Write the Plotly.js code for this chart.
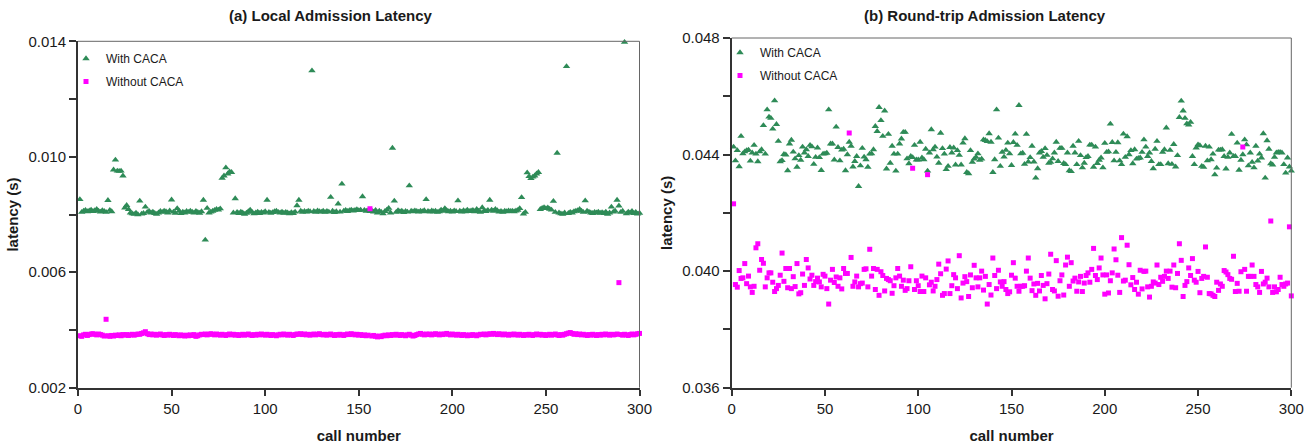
<!DOCTYPE html>
<html>
<head>
<meta charset="utf-8">
<script src="https://cdn.plot.ly/plotly-3.0.1.min.js"></script>
<style>html,body{margin:0;padding:0;background:#fff;}#chart{width:1305px;height:447px;}</style>
</head>
<body>
<div id="chart"></div>
<script>
// ---- data ----
const callCount = 300;
const callNumbers = Array.from({length: callCount}, (_, i) => i + 1);

const seriesNames = ['With CACA', 'Without CACA'];
const panelTitles = ['(a) Local Admission Latency', '(b) Round-trip Admission Latency'];
const xTickVals = [0, 50, 100, 150, 200, 250, 300];
const localTickVals = [0.002, 0.004, 0.006, 0.008, 0.010, 0.012, 0.014];
const localTickText = ['0.002', '', '0.006', '', '0.010', '', '0.014'];
const roundTickVals = [0.036, 0.038, 0.040, 0.042, 0.044, 0.046, 0.048];
const roundTickText = ['0.036', '', '0.040', '', '0.044', '', '0.048'];

// (a) local admission latency, with CACA (s)
const localWith = [
0.00852,0.00808,0.00812,0.00815,0.00810,0.00813,0.00816,0.00811,0.00814,0.00818,
0.00812,0.00809,0.00814,0.00811,0.00808,0.00849,0.00815,0.00810,0.00955,0.00989,
0.00951,0.00950,0.00951,0.00934,0.00823,0.00832,0.00818,0.00806,0.00803,0.00801,
0.00805,0.00800,0.00847,0.00802,0.00804,0.00826,0.00808,0.00811,0.00806,0.00809,
0.00804,0.00801,0.00806,0.00811,0.00808,0.00812,0.00810,0.00806,0.00813,0.00851,
0.00809,0.00805,0.00821,0.00812,0.00804,0.00809,0.00806,0.00811,0.00808,0.00812,
0.00809,0.00806,0.00811,0.00808,0.00805,0.00810,0.00850,0.00712,0.00822,0.00806,
0.00809,0.00812,0.00815,0.00818,0.00816,0.00820,0.00926,0.00934,0.00962,0.00941,
0.00948,0.00946,0.00806,0.00855,0.00808,0.00804,0.00809,0.00806,0.00801,0.00805,
0.00810,0.00816,0.00808,0.00803,0.00806,0.00809,0.00804,0.00808,0.00806,0.00810,
0.00850,0.00808,0.00805,0.00807,0.00810,0.00812,0.00808,0.00806,0.00809,0.00805,
0.00808,0.00806,0.00803,0.00807,0.00804,0.00809,0.00831,0.00850,0.00812,0.00808,
0.00811,0.00809,0.00812,0.00810,0.01298,0.00811,0.00808,0.00813,0.00810,0.00809,
0.00812,0.00808,0.00811,0.00809,0.00860,0.00812,0.00807,0.00810,0.00837,0.00809,
0.00906,0.00812,0.00815,0.00811,0.00814,0.00816,0.00813,0.00815,0.00817,0.00814,
0.00816,0.00862,0.00815,0.00812,0.00814,0.00811,0.00813,0.00809,0.00815,0.00806,
0.00812,0.00809,0.00803,0.00811,0.00816,0.00822,0.00806,0.01030,0.00847,0.00808,
0.00814,0.00810,0.00812,0.00807,0.00811,0.00809,0.00900,0.00812,0.00810,0.00813,
0.00811,0.00809,0.00812,0.00810,0.00814,0.00852,0.00811,0.00809,0.00813,0.00810,
0.00812,0.00808,0.00810,0.00816,0.00812,0.00821,0.00814,0.00810,0.00812,0.00809,
0.00813,0.00811,0.00848,0.00812,0.00809,0.00814,0.00810,0.00816,0.00811,0.00813,
0.00815,0.00810,0.00818,0.00812,0.00808,0.00824,0.00813,0.00811,0.00815,0.00850,
0.00816,0.00812,0.00818,0.00814,0.00809,0.00811,0.00808,0.00812,0.00810,0.00813,
0.00811,0.00812,0.00810,0.00813,0.00815,0.00821,0.00859,0.00802,0.00808,0.00945,
0.00932,0.00925,0.00930,0.00934,0.00941,0.00946,0.00818,0.00822,0.00824,0.00821,
0.00823,0.00819,0.00816,0.00846,0.00808,0.01013,0.00806,0.00803,0.00801,0.00806,
0.01313,0.00804,0.00808,0.00806,0.00810,0.00812,0.00814,0.00818,0.00812,0.00808,
0.00848,0.00812,0.00809,0.00806,0.00804,0.00808,0.00806,0.00809,0.00805,0.00807,
0.00804,0.00809,0.00801,0.00806,0.00826,0.00809,0.00812,0.00850,0.00830,0.00808,
0.00812,0.01397,0.00803,0.00809,0.00806,0.00811,0.00804,0.00808,0.00802,0.00805
];

// (a) local admission latency, without CACA (s)
const localWithout = [
0.00380,0.00378,0.00383,0.00385,0.00381,0.00384,0.00386,0.00387,0.00385,0.00383,
0.00386,0.00384,0.00382,0.00379,0.00437,0.00380,0.00378,0.00381,0.00379,0.00382,
0.00381,0.00383,0.00380,0.00384,0.00382,0.00384,0.00381,0.00383,0.00385,0.00382,
0.00384,0.00386,0.00385,0.00388,0.00390,0.00394,0.00387,0.00384,0.00386,0.00383,
0.00385,0.00382,0.00384,0.00386,0.00383,0.00381,0.00384,0.00382,0.00385,0.00383,
0.00381,0.00384,0.00382,0.00380,0.00383,0.00381,0.00379,0.00382,0.00380,0.00383,
0.00381,0.00384,0.00378,0.00380,0.00383,0.00385,0.00384,0.00386,0.00383,0.00385,
0.00387,0.00385,0.00383,0.00386,0.00384,0.00382,0.00385,0.00383,0.00381,0.00384,
0.00386,0.00383,0.00385,0.00382,0.00384,0.00381,0.00383,0.00385,0.00382,0.00384,
0.00386,0.00383,0.00381,0.00384,0.00382,0.00385,0.00383,0.00386,0.00384,0.00382,
0.00385,0.00383,0.00381,0.00384,0.00382,0.00380,0.00383,0.00385,0.00383,0.00386,
0.00384,0.00382,0.00385,0.00383,0.00381,0.00384,0.00386,0.00385,0.00387,0.00384,
0.00386,0.00383,0.00385,0.00382,0.00384,0.00386,0.00383,0.00385,0.00387,0.00384,
0.00383,0.00385,0.00382,0.00384,0.00386,0.00383,0.00381,0.00384,0.00382,0.00385,
0.00383,0.00381,0.00384,0.00386,0.00384,0.00387,0.00385,0.00383,0.00385,0.00382,
0.00384,0.00381,0.00383,0.00380,0.00382,0.00820,0.00379,0.00381,0.00378,0.00376,
0.00379,0.00377,0.00380,0.00382,0.00380,0.00383,0.00381,0.00384,0.00382,0.00385,
0.00383,0.00381,0.00384,0.00382,0.00380,0.00383,0.00385,0.00382,0.00379,0.00381,
0.00384,0.00386,0.00388,0.00385,0.00383,0.00386,0.00384,0.00386,0.00383,0.00385,
0.00387,0.00385,0.00383,0.00386,0.00384,0.00386,0.00388,0.00385,0.00383,0.00386,
0.00384,0.00382,0.00385,0.00383,0.00381,0.00384,0.00382,0.00380,0.00383,0.00381,
0.00384,0.00382,0.00380,0.00383,0.00385,0.00384,0.00386,0.00383,0.00385,0.00387,
0.00385,0.00388,0.00386,0.00384,0.00387,0.00385,0.00383,0.00386,0.00384,0.00382,
0.00385,0.00383,0.00386,0.00384,0.00382,0.00385,0.00383,0.00381,0.00384,0.00382,
0.00385,0.00383,0.00381,0.00384,0.00386,0.00383,0.00385,0.00382,0.00384,0.00381,
0.00383,0.00385,0.00382,0.00384,0.00386,0.00383,0.00381,0.00384,0.00382,0.00385,
0.00387,0.00389,0.00391,0.00388,0.00385,0.00387,0.00384,0.00386,0.00383,0.00385,
0.00383,0.00381,0.00384,0.00382,0.00385,0.00383,0.00381,0.00384,0.00382,0.00385,
0.00383,0.00386,0.00384,0.00382,0.00385,0.00383,0.00384,0.00386,0.00564,0.00384,
0.00382,0.00385,0.00383,0.00381,0.00384,0.00386,0.00383,0.00385,0.00387,0.00388
];

// (b) round-trip admission latency, with CACA (s)
const roundWith = [
0.04426,0.04379,0.04414,0.04359,0.04463,0.04403,0.04410,0.04414,0.04416,0.04378,
0.04406,0.04432,0.04402,0.04376,0.04410,0.04417,0.04500,0.04402,0.04554,0.04529,
0.04525,0.04488,0.04585,0.04504,0.04446,0.04376,0.04380,0.04401,0.04399,0.04345,
0.04437,0.04450,0.04409,0.04386,0.04357,0.04397,0.04381,0.04426,0.04406,0.04417,
0.04394,0.04432,0.04427,0.04367,0.04391,0.04423,0.04390,0.04346,0.04402,0.04403,
0.04405,0.04554,0.04437,0.04437,0.04382,0.04495,0.04425,0.04379,0.04416,0.04419,
0.04345,0.04400,0.04443,0.04429,0.04358,0.04377,0.04394,0.04291,0.04362,0.04422,
0.04392,0.04383,0.04357,0.04402,0.04403,0.04417,0.04497,0.04480,0.04562,0.04517,
0.04463,0.04550,0.04351,0.04470,0.04371,0.04429,0.04402,0.04344,0.04402,0.04437,
0.04454,0.04477,0.04477,0.04386,0.04369,0.04394,0.04390,0.04432,0.04382,0.04382,
0.04443,0.04389,0.04383,0.04419,0.04344,0.04406,0.04486,0.04417,0.04426,0.04392,
0.04371,0.04474,0.04421,0.04402,0.04349,0.04360,0.04425,0.04406,0.04423,0.04365,
0.04414,0.04398,0.04365,0.04440,0.04455,0.04339,0.04335,0.04414,0.04374,0.04385,
0.04391,0.04403,0.04381,0.04385,0.04451,0.04449,0.04445,0.04472,0.04443,0.04339,
0.04383,0.04554,0.04457,0.04360,0.04408,0.04392,0.04415,0.04440,0.04403,0.04363,
0.04442,0.04471,0.04432,0.04569,0.04403,0.04405,0.04367,0.04470,0.04375,0.04390,
0.04429,0.04375,0.04320,0.04352,0.04406,0.04411,0.04391,0.04421,0.04398,0.04371,
0.04374,0.04386,0.04406,0.04443,0.04377,0.04422,0.04422,0.04370,0.04366,0.04406,
0.04345,0.04342,0.04429,0.04406,0.04366,0.04446,0.04397,0.04355,0.04371,0.04390,
0.04394,0.04433,0.04433,0.04357,0.04426,0.04370,0.04381,0.04389,0.04355,0.04439,
0.04408,0.04410,0.04505,0.04442,0.04379,0.04408,0.04441,0.04379,0.04366,0.04471,
0.04391,0.04462,0.04400,0.04414,0.04369,0.04417,0.04385,0.04387,0.04389,0.04408,
0.04451,0.04426,0.04394,0.04406,0.04377,0.04352,0.04419,0.04446,0.04366,0.04366,
0.04408,0.04417,0.04492,0.04369,0.04415,0.04367,0.04435,0.04358,0.04397,0.04528,
0.04584,0.04550,0.04525,0.04506,0.04502,0.04511,0.04394,0.04366,0.04423,0.04434,
0.04431,0.04360,0.04357,0.04429,0.04379,0.04426,0.04383,0.04402,0.04331,0.04354,
0.04416,0.04416,0.04417,0.04394,0.04351,0.04391,0.04406,0.04470,0.04394,0.04394,
0.04440,0.04347,0.04381,0.04400,0.04451,0.04434,0.04362,0.04406,0.04374,0.04355,
0.04429,0.04378,0.04402,0.04389,0.04472,0.04320,0.04448,0.04419,0.04369,0.04365,
0.04391,0.04406,0.04408,0.04408,0.04406,0.04366,0.04337,0.04389,0.04358,0.04344
];

// (b) round-trip admission latency, without CACA (s)
const roundWithout = [
0.04231,0.03954,0.03945,0.04002,0.03975,0.03977,0.04026,0.03957,0.03983,0.03946,
0.03927,0.03948,0.04080,0.04094,0.04003,0.04040,0.04027,0.03946,0.03977,0.03994,
0.03994,0.03962,0.03930,0.03940,0.03951,0.03986,0.04062,0.03965,0.04009,0.03943,
0.04009,0.03940,0.03981,0.03947,0.04026,0.03922,0.03926,0.03990,0.03951,0.04040,
0.04011,0.03973,0.03986,0.03951,0.03964,0.03976,0.03963,0.03946,0.03989,0.03983,
0.03940,0.03887,0.03969,0.04006,0.03961,0.03980,0.03948,0.03977,0.03939,0.04009,
0.03992,0.03992,0.04474,0.04047,0.03948,0.03963,0.03983,0.03946,0.03957,0.03959,
0.04006,0.04008,0.03946,0.04075,0.03983,0.04009,0.03937,0.04006,0.03917,0.03998,
0.03985,0.03932,0.03975,0.03971,0.03967,0.03924,0.03950,0.03977,0.04009,0.03983,
0.03948,0.03969,0.03934,0.03940,0.03967,0.04015,0.04353,0.03937,0.03967,0.03950,
0.03930,0.03983,0.03930,0.03977,0.04331,0.03953,0.03962,0.03932,0.03948,0.03971,
0.04024,0.03991,0.03917,0.03923,0.04007,0.04035,0.03923,0.03950,0.03988,0.03977,
0.03940,0.04053,0.03908,0.03959,0.03981,0.03964,0.03913,0.03987,0.03943,0.04020,
0.03977,0.03946,0.03977,0.04000,0.03935,0.03982,0.03887,0.03954,0.03918,0.04045,
0.03985,0.03940,0.04003,0.03963,0.03948,0.03964,0.03937,0.03923,0.03929,0.03986,
0.04029,0.03976,0.03948,0.03931,0.03948,0.03948,0.03950,0.04000,0.04045,0.03976,
0.03933,0.03956,0.03917,0.03958,0.03932,0.03985,0.03951,0.03905,0.03957,0.03990,
0.04058,0.03937,0.03932,0.04036,0.03914,0.03967,0.03987,0.03918,0.04021,0.04048,
0.03948,0.04029,0.03966,0.03976,0.03931,0.03963,0.03982,0.03930,0.03959,0.03985,
0.03994,0.03962,0.04006,0.04078,0.03985,0.03971,0.04011,0.04045,0.03987,0.03921,
0.03987,0.03925,0.03967,0.03994,0.04076,0.04039,0.03986,0.03927,0.04115,0.03966,
0.03969,0.04089,0.04022,0.03953,0.03978,0.03937,0.03962,0.03921,0.04003,0.03939,
0.03999,0.04000,0.03946,0.03911,0.03948,0.03963,0.03959,0.04021,0.03954,0.03979,
0.03965,0.03982,0.04000,0.03975,0.04000,0.03945,0.04021,0.03943,0.03992,0.04094,
0.04037,0.03913,0.03951,0.03964,0.04011,0.03985,0.04043,0.03969,0.03962,0.03999,
0.03926,0.03975,0.03982,0.04083,0.03979,0.03923,0.03922,0.03917,0.03913,0.03962,
0.03934,0.03956,0.03948,0.04002,0.03997,0.03988,0.03975,0.03972,0.04051,0.03930,
0.03958,0.03931,0.03998,0.04426,0.04006,0.03931,0.03982,0.03982,0.04021,0.03982,
0.03954,0.03946,0.03927,0.03999,0.03956,0.03962,0.03976,0.03946,0.04172,0.03927,
0.03946,0.03929,0.03937,0.03979,0.03954,0.03948,0.03956,0.03959,0.04152,0.03915
];

// ---- styling ----
const W = 1305, H = 447;
const GREEN = 'rgb(46,139,87)';
const MAGENTA = '#ff00ff';
const FONT = '"Liberation Sans", Arial, Helvetica, sans-serif';
const TXT = '#1a1a1a';

function withTrace(y, xa, ya, leg) {
  return {type: 'scatter', mode: 'markers', x: callNumbers, y: y, xaxis: xa, yaxis: ya,
    name: seriesNames[0], legend: leg, legendgroup: leg + 'a', cliponaxis: false,
    marker: {symbol: 'triangle-up', size: 6.5, color: GREEN, line: {width: 0}},
    hoverinfo: 'x+y'};
}
function withoutTrace(y, xa, ya, leg) {
  return {type: 'scatter', mode: 'markers', x: callNumbers, y: y, xaxis: xa, yaxis: ya,
    name: seriesNames[1], legend: leg, legendgroup: leg + 'b', cliponaxis: false,
    marker: {symbol: 'square', size: 5, color: MAGENTA, line: {width: 0}},
    hoverinfo: 'x+y'};
}

const data = [
  withTrace(localWith, 'x', 'y', 'legend'),
  withoutTrace(localWithout, 'x', 'y', 'legend'),
  withTrace(roundWith, 'x2', 'y2', 'legend2'),
  withoutTrace(roundWithout, 'x2', 'y2', 'legend2')
];

function xAxis(domain, anchor) {
  return {domain: domain, anchor: anchor, range: [0, 300], tickmode: 'array', tickvals: xTickVals,
    ticks: 'outside', ticklen: 6, tickwidth: 1.5, tickcolor: '#333',
    showline: true, linecolor: '#333', linewidth: 2, showgrid: false, zeroline: false,
    tickfont: {size: 15, color: TXT, family: FONT},
    title: {text: 'call number', font: {size: 15, weight: 'bold', color: TXT, family: FONT}, standoff: 15}};
}
function yAxis(domain, anchor, range, vals, text) {
  return {domain: domain, anchor: anchor, range: range, tickmode: 'array', tickvals: vals, ticktext: text,
    ticks: 'outside', ticklen: 7, tickwidth: 1.5, tickcolor: '#333',
    showline: true, linecolor: '#333', linewidth: 2, showgrid: false, zeroline: false,
    tickfont: {size: 15, color: TXT, family: FONT},
    title: {text: 'latency (s)', font: {size: 15, weight: 'bold', color: TXT, family: FONT}, standoff: 6}};
}

const frameLine = {color: '#666', width: 1};
const layout = {
  width: W, height: H,
  margin: {l: 0, r: 0, t: 0, b: 0},
  paper_bgcolor: '#ffffff', plot_bgcolor: '#ffffff',
  font: {family: FONT, color: TXT, size: 15},
  showlegend: true,
  xaxis: xAxis([78 / W, 639.5 / W], 'y'),
  yaxis: yAxis([59.3 / H, 405.7 / H], 'x', [0.002, 0.014], localTickVals, localTickText),
  xaxis2: xAxis([731.7 / W, 1291.3 / W], 'y2'),
  yaxis2: yAxis([59.3 / H, 409 / H], 'x2', [0.036, 0.048], roundTickVals, roundTickText),
  legend: {x: 66 / W, xanchor: 'left', y: 1 - 44 / H, yanchor: 'top', bgcolor: 'rgba(0,0,0,0)',
    borderwidth: 0, font: {size: 12, color: TXT, family: FONT}, tracegroupgap: 4, itemwidth: 30},
  legend2: {x: 720 / W, xanchor: 'left', y: 1 - 38 / H, yanchor: 'top', bgcolor: 'rgba(0,0,0,0)',
    borderwidth: 0, font: {size: 12, color: TXT, family: FONT}, tracegroupgap: 4, itemwidth: 30},
  annotations: [
    {text: panelTitles[0], xref: 'paper', yref: 'paper', x: 330 / W, y: 1 - 16 / H,
      xanchor: 'center', yanchor: 'middle', showarrow: false,
      font: {size: 15, weight: 'bold', color: TXT, family: FONT}},
    {text: panelTitles[1], xref: 'paper', yref: 'paper', x: 984.5 / W, y: 1 - 16 / H,
      xanchor: 'center', yanchor: 'middle', showarrow: false,
      font: {size: 15, weight: 'bold', color: TXT, family: FONT}}
  ],
  shapes: [
    {type: 'line', xref: 'x domain', yref: 'y domain', x0: 0, x1: 1, y0: 1, y1: 1, line: frameLine},
    {type: 'line', xref: 'x domain', yref: 'y domain', x0: 1, x1: 1, y0: 0, y1: 1, line: frameLine},
    {type: 'line', xref: 'x2 domain', yref: 'y2 domain', x0: 0, x1: 1, y0: 1, y1: 1, line: frameLine},
    {type: 'line', xref: 'x2 domain', yref: 'y2 domain', x0: 1, x1: 1, y0: 0, y1: 1, line: frameLine}
  ]
};

Plotly.newPlot('chart', data, layout, {displayModeBar: false, responsive: false, staticPlot: false});
</script>
</body>
</html>
